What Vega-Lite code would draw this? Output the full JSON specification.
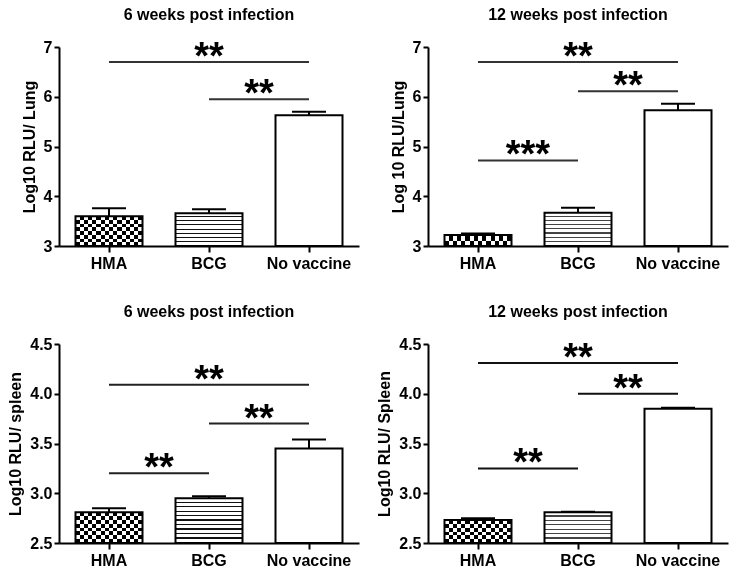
{
"$schema": "https://vega.github.io/schema/vega-lite/v6.json",
"padding": {"left": 7, "top": 6, "right": 5, "bottom": 5},
"background": "#ffffff",
"columns": 2,
"bounds": "flush",
"spacing": {"row": 98, "column": 69},
"config": {
  "font": "Liberation Sans",
  "view": {"stroke": null},
  "axis": {"domainColor": "#000", "domainWidth": 2, "tickColor": "#000", "tickWidth": 2, "tickSize": 5, "labelFont": "Liberation Sans", "labelFontSize": 16, "labelFontWeight": "bold", "labelColor": "#000", "titleFont": "Liberation Sans", "titleFontSize": 16, "titleFontWeight": "bold", "titleColor": "#000", "grid": false, "labelPadding": 2, "titlePadding": 6},
  "axisX": {"labelAngle": 0, "tickSize": 6, "labelPadding": 3},
  "title": {"font": "Liberation Sans", "fontSize": 16, "fontWeight": "bold", "color": "#000", "frame": "group", "offset": 16}
},
"datasets": {
  "bars": [
    {"panel": "lung6", "group": "HMA", "mean": 3.60, "upper": 3.76},
    {"panel": "lung6", "group": "BCG", "mean": 3.66, "upper": 3.74},
    {"panel": "lung6", "group": "No vaccine", "mean": 5.63, "upper": 5.70},
    {"panel": "lung12", "group": "HMA", "mean": 3.22, "upper": 3.25},
    {"panel": "lung12", "group": "BCG", "mean": 3.67, "upper": 3.77},
    {"panel": "lung12", "group": "No vaccine", "mean": 5.73, "upper": 5.86},
    {"panel": "spleen6", "group": "HMA", "mean": 2.81, "upper": 2.85},
    {"panel": "spleen6", "group": "BCG", "mean": 2.95, "upper": 2.97},
    {"panel": "spleen6", "group": "No vaccine", "mean": 3.45, "upper": 3.54},
    {"panel": "spleen12", "group": "HMA", "mean": 2.73, "upper": 2.75},
    {"panel": "spleen12", "group": "BCG", "mean": 2.81, "upper": 2.815},
    {"panel": "spleen12", "group": "No vaccine", "mean": 3.85, "upper": 3.86}
  ],
  "sig": [
    {"panel": "lung6", "from": "HMA", "to": "No vaccine", "y": 6.70, "label": "**"},
    {"panel": "lung6", "from": "BCG", "to": "No vaccine", "y": 5.95, "label": "**"},
    {"panel": "lung12", "from": "HMA", "to": "No vaccine", "y": 6.70, "label": "**"},
    {"panel": "lung12", "from": "BCG", "to": "No vaccine", "y": 6.11, "label": "**"},
    {"panel": "lung12", "from": "HMA", "to": "BCG", "y": 4.72, "label": "***"},
    {"panel": "spleen6", "from": "HMA", "to": "No vaccine", "y": 4.09, "label": "**"},
    {"panel": "spleen6", "from": "BCG", "to": "No vaccine", "y": 3.70, "label": "**"},
    {"panel": "spleen6", "from": "HMA", "to": "BCG", "y": 3.20, "label": "**"},
    {"panel": "spleen12", "from": "HMA", "to": "No vaccine", "y": 4.31, "label": "**"},
    {"panel": "spleen12", "from": "BCG", "to": "No vaccine", "y": 4.00, "label": "**"},
    {"panel": "spleen12", "from": "HMA", "to": "BCG", "y": 3.25, "label": "**"}
  ]
},
"concat": [
{
 "width": 300, "height": 199,
 "title": "6 weeks post infection",
 "encoding": {
   "x": {"field": "group", "type": "nominal", "title": null, "scale": {"domain": ["HMA", "BCG", "No vaccine"], "paddingInner": 0.33, "paddingOuter": 0.165}},
   "y": {"field": "mean", "type": "quantitative", "title": "Log10 RLU/ Lung", "scale": {"domain": [3, 7]}, "axis": {"values": [3, 4, 5, 6, 7], "format": "d"}}
 },
 "layer": [
  {"data": {"name": "bars"}, "transform": [{"filter": "datum.panel==='lung6' && datum.group==='HMA'"}],
   "mark": {"type": "bar", "strokeWidth": 0, "fill": {"gradient": "linear", "x1": 0, "y1": 0, "x2": 0, "y2": 1, "stops": [{"offset":0,"color":"#000"},{"offset":0.125,"color":"#000"},{"offset":0.125,"color":"#fff"},{"offset":0.25,"color":"#fff"},{"offset":0.25,"color":"#000"},{"offset":0.375,"color":"#000"},{"offset":0.375,"color":"#fff"},{"offset":0.5,"color":"#fff"},{"offset":0.5,"color":"#000"},{"offset":0.625,"color":"#000"},{"offset":0.625,"color":"#fff"},{"offset":0.75,"color":"#fff"},{"offset":0.75,"color":"#000"},{"offset":0.875,"color":"#000"},{"offset":0.875,"color":"#fff"},{"offset":1,"color":"#fff"}]}},
   "encoding": {"y2": {"datum": 3}}},
  {"data": {"name": "bars"}, "transform": [{"filter": "datum.panel==='lung6' && datum.group==='HMA'"}],
   "mark": {"type": "bar", "strokeWidth": 0, "blend": "difference", "fill": {"gradient": "linear", "x1": 0, "y1": 0, "x2": 1, "y2": 0, "stops": [{"offset":0,"color":"#fff"},{"offset":0.0625,"color":"#fff"},{"offset":0.0625,"color":"#000"},{"offset":0.125,"color":"#000"},{"offset":0.125,"color":"#fff"},{"offset":0.1875,"color":"#fff"},{"offset":0.1875,"color":"#000"},{"offset":0.25,"color":"#000"},{"offset":0.25,"color":"#fff"},{"offset":0.3125,"color":"#fff"},{"offset":0.3125,"color":"#000"},{"offset":0.375,"color":"#000"},{"offset":0.375,"color":"#fff"},{"offset":0.4375,"color":"#fff"},{"offset":0.4375,"color":"#000"},{"offset":0.5,"color":"#000"},{"offset":0.5,"color":"#fff"},{"offset":0.5625,"color":"#fff"},{"offset":0.5625,"color":"#000"},{"offset":0.625,"color":"#000"},{"offset":0.625,"color":"#fff"},{"offset":0.6875,"color":"#fff"},{"offset":0.6875,"color":"#000"},{"offset":0.75,"color":"#000"},{"offset":0.75,"color":"#fff"},{"offset":0.8125,"color":"#fff"},{"offset":0.8125,"color":"#000"},{"offset":0.875,"color":"#000"},{"offset":0.875,"color":"#fff"},{"offset":0.9375,"color":"#fff"},{"offset":0.9375,"color":"#000"},{"offset":1,"color":"#000"}]}},
   "encoding": {"y2": {"datum": 3}}},
  {"data": {"name": "bars"}, "transform": [{"filter": "datum.panel==='lung6' && datum.group==='BCG'"}],
   "mark": {"type": "bar", "strokeWidth": 0, "fill": {"gradient": "linear", "x1": 0, "y1": 0, "x2": 0, "y2": 1, "stops": [{"offset":0,"color":"#fff"},{"offset":0.094,"color":"#fff"},{"offset":0.094,"color":"#111"},{"offset":0.125,"color":"#111"},{"offset":0.125,"color":"#fff"},{"offset":0.219,"color":"#fff"},{"offset":0.219,"color":"#111"},{"offset":0.25,"color":"#111"},{"offset":0.25,"color":"#fff"},{"offset":0.344,"color":"#fff"},{"offset":0.344,"color":"#111"},{"offset":0.375,"color":"#111"},{"offset":0.375,"color":"#fff"},{"offset":0.469,"color":"#fff"},{"offset":0.469,"color":"#111"},{"offset":0.5,"color":"#111"},{"offset":0.5,"color":"#fff"},{"offset":0.594,"color":"#fff"},{"offset":0.594,"color":"#111"},{"offset":0.625,"color":"#111"},{"offset":0.625,"color":"#fff"},{"offset":0.719,"color":"#fff"},{"offset":0.719,"color":"#111"},{"offset":0.75,"color":"#111"},{"offset":0.75,"color":"#fff"},{"offset":0.844,"color":"#fff"},{"offset":0.844,"color":"#111"},{"offset":0.875,"color":"#111"},{"offset":0.875,"color":"#fff"},{"offset":0.969,"color":"#fff"},{"offset":0.969,"color":"#111"},{"offset":1,"color":"#111"}]}},
   "encoding": {"y2": {"datum": 3}}},
  {"data": {"name": "bars"}, "transform": [{"filter": "datum.panel==='lung6'"}],
   "mark": {"type": "bar", "fill": "transparent", "stroke": "#000", "strokeWidth": 2},
   "encoding": {"y2": {"datum": 3}}},
  {"data": {"name": "bars"}, "transform": [{"filter": "datum.panel==='lung6'"}],
   "mark": {"type": "rule", "strokeWidth": 2, "color": "#000"},
   "encoding": {"y2": {"field": "upper"}}},
  {"data": {"name": "bars"}, "transform": [{"filter": "datum.panel==='lung6'"}],
   "mark": {"type": "tick", "thickness": 2, "size": 34, "color": "#000", "opacity": 1},
   "encoding": {"y": {"field": "upper", "type": "quantitative", "title": "Log10 RLU/ Lung"}}},
  {"data": {"name": "sig"}, "transform": [{"filter": "datum.panel==='lung6'"}],
   "mark": {"type": "rule", "strokeWidth": 2, "color": "#333"},
   "encoding": {"x": {"field": "from", "type": "nominal", "title": null}, "x2": {"field": "to"}, "y": {"field": "y", "type": "quantitative", "title": "Log10 RLU/ Lung"}}},
  {"data": {"name": "sig"}, "transform": [{"filter": "datum.panel==='lung6' && datum.from==='HMA' && datum.to==='No vaccine'"}],
   "mark": {"type": "text", "fontSize": 38, "fontWeight": "bold", "baseline": "alphabetic", "dy": 7, "color": "#000"},
   "encoding": {"x": {"field": "from", "type": "nominal", "title": null, "bandPosition": 1.993}, "y": {"field": "y", "type": "quantitative", "title": "Log10 RLU/ Lung"}, "text": {"field": "label"}}},
  {"data": {"name": "sig"}, "transform": [{"filter": "datum.panel==='lung6' && !(datum.from==='HMA' && datum.to==='No vaccine')"}],
   "mark": {"type": "text", "fontSize": 38, "fontWeight": "bold", "baseline": "alphabetic", "dy": 7, "color": "#000"},
   "encoding": {"x": {"field": "from", "type": "nominal", "title": null, "bandPosition": 1.246}, "y": {"field": "y", "type": "quantitative", "title": "Log10 RLU/ Lung"}, "text": {"field": "label"}}}
 ]
},
{
 "width": 300, "height": 199,
 "title": "12 weeks post infection",
 "encoding": {
   "x": {"field": "group", "type": "nominal", "title": null, "scale": {"domain": ["HMA", "BCG", "No vaccine"], "paddingInner": 0.33, "paddingOuter": 0.165}},
   "y": {"field": "mean", "type": "quantitative", "title": "Log 10 RLU/Lung", "scale": {"domain": [3, 7]}, "axis": {"values": [3, 4, 5, 6, 7], "format": "d"}}
 },
 "layer": [
  {"data": {"name": "bars"}, "transform": [{"filter": "datum.panel==='lung12' && datum.group==='HMA'"}],
   "mark": {"type": "bar", "strokeWidth": 0, "fill": {"gradient": "linear", "x1": 0, "y1": 0, "x2": 0, "y2": 1, "stops": [{"offset":0,"color":"#000"},{"offset":0.5,"color":"#000"},{"offset":0.5,"color":"#fff"},{"offset":1,"color":"#fff"}]}},
   "encoding": {"y2": {"datum": 3}}},
  {"data": {"name": "bars"}, "transform": [{"filter": "datum.panel==='lung12' && datum.group==='HMA'"}],
   "mark": {"type": "bar", "strokeWidth": 0, "blend": "difference", "fill": {"gradient": "linear", "x1": 0, "y1": 0, "x2": 1, "y2": 0, "stops": [{"offset":0,"color":"#fff"},{"offset":0.0625,"color":"#fff"},{"offset":0.0625,"color":"#000"},{"offset":0.125,"color":"#000"},{"offset":0.125,"color":"#fff"},{"offset":0.1875,"color":"#fff"},{"offset":0.1875,"color":"#000"},{"offset":0.25,"color":"#000"},{"offset":0.25,"color":"#fff"},{"offset":0.3125,"color":"#fff"},{"offset":0.3125,"color":"#000"},{"offset":0.375,"color":"#000"},{"offset":0.375,"color":"#fff"},{"offset":0.4375,"color":"#fff"},{"offset":0.4375,"color":"#000"},{"offset":0.5,"color":"#000"},{"offset":0.5,"color":"#fff"},{"offset":0.5625,"color":"#fff"},{"offset":0.5625,"color":"#000"},{"offset":0.625,"color":"#000"},{"offset":0.625,"color":"#fff"},{"offset":0.6875,"color":"#fff"},{"offset":0.6875,"color":"#000"},{"offset":0.75,"color":"#000"},{"offset":0.75,"color":"#fff"},{"offset":0.8125,"color":"#fff"},{"offset":0.8125,"color":"#000"},{"offset":0.875,"color":"#000"},{"offset":0.875,"color":"#fff"},{"offset":0.9375,"color":"#fff"},{"offset":0.9375,"color":"#000"},{"offset":1,"color":"#000"}]}},
   "encoding": {"y2": {"datum": 3}}},
  {"data": {"name": "bars"}, "transform": [{"filter": "datum.panel==='lung12' && datum.group==='BCG'"}],
   "mark": {"type": "bar", "strokeWidth": 0, "fill": {"gradient": "linear", "x1": 0, "y1": 0, "x2": 0, "y2": 1, "stops": [{"offset":0,"color":"#fff"},{"offset":0.094,"color":"#fff"},{"offset":0.094,"color":"#444"},{"offset":0.125,"color":"#444"},{"offset":0.125,"color":"#fff"},{"offset":0.219,"color":"#fff"},{"offset":0.219,"color":"#444"},{"offset":0.25,"color":"#444"},{"offset":0.25,"color":"#fff"},{"offset":0.344,"color":"#fff"},{"offset":0.344,"color":"#444"},{"offset":0.375,"color":"#444"},{"offset":0.375,"color":"#fff"},{"offset":0.469,"color":"#fff"},{"offset":0.469,"color":"#444"},{"offset":0.5,"color":"#444"},{"offset":0.5,"color":"#fff"},{"offset":0.594,"color":"#fff"},{"offset":0.594,"color":"#444"},{"offset":0.625,"color":"#444"},{"offset":0.625,"color":"#fff"},{"offset":0.719,"color":"#fff"},{"offset":0.719,"color":"#444"},{"offset":0.75,"color":"#444"},{"offset":0.75,"color":"#fff"},{"offset":0.844,"color":"#fff"},{"offset":0.844,"color":"#444"},{"offset":0.875,"color":"#444"},{"offset":0.875,"color":"#fff"},{"offset":0.969,"color":"#fff"},{"offset":0.969,"color":"#444"},{"offset":1,"color":"#444"}]}},
   "encoding": {"y2": {"datum": 3}}},
  {"data": {"name": "bars"}, "transform": [{"filter": "datum.panel==='lung12'"}],
   "mark": {"type": "bar", "fill": "transparent", "stroke": "#000", "strokeWidth": 2},
   "encoding": {"y2": {"datum": 3}}},
  {"data": {"name": "bars"}, "transform": [{"filter": "datum.panel==='lung12'"}],
   "mark": {"type": "rule", "strokeWidth": 2, "color": "#000"},
   "encoding": {"y2": {"field": "upper"}}},
  {"data": {"name": "bars"}, "transform": [{"filter": "datum.panel==='lung12'"}],
   "mark": {"type": "tick", "thickness": 2, "size": 34, "color": "#000", "opacity": 1},
   "encoding": {"y": {"field": "upper", "type": "quantitative", "title": "Log 10 RLU/Lung"}}},
  {"data": {"name": "sig"}, "transform": [{"filter": "datum.panel==='lung12'"}],
   "mark": {"type": "rule", "strokeWidth": 2, "color": "#333"},
   "encoding": {"x": {"field": "from", "type": "nominal", "title": null}, "x2": {"field": "to"}, "y": {"field": "y", "type": "quantitative", "title": "Log 10 RLU/Lung"}}},
  {"data": {"name": "sig"}, "transform": [{"filter": "datum.panel==='lung12' && datum.from==='HMA' && datum.to==='No vaccine'"}],
   "mark": {"type": "text", "fontSize": 38, "fontWeight": "bold", "baseline": "alphabetic", "dy": 7, "color": "#000"},
   "encoding": {"x": {"field": "from", "type": "nominal", "title": null, "bandPosition": 1.993}, "y": {"field": "y", "type": "quantitative", "title": "Log 10 RLU/Lung"}, "text": {"field": "label"}}},
  {"data": {"name": "sig"}, "transform": [{"filter": "datum.panel==='lung12' && !(datum.from==='HMA' && datum.to==='No vaccine')"}],
   "mark": {"type": "text", "fontSize": 38, "fontWeight": "bold", "baseline": "alphabetic", "dy": 7, "color": "#000"},
   "encoding": {"x": {"field": "from", "type": "nominal", "title": null, "bandPosition": 1.246}, "y": {"field": "y", "type": "quantitative", "title": "Log 10 RLU/Lung"}, "text": {"field": "label"}}}
 ]
},
{
 "width": 300, "height": 199,
 "title": "6 weeks post infection",
 "encoding": {
   "x": {"field": "group", "type": "nominal", "title": null, "scale": {"domain": ["HMA", "BCG", "No vaccine"], "paddingInner": 0.33, "paddingOuter": 0.165}},
   "y": {"field": "mean", "type": "quantitative", "title": "Log10 RLU/ spleen", "scale": {"domain": [2.5, 4.5]}, "axis": {"values": [2.5, 3, 3.5, 4, 4.5], "format": ".1f"}}
 },
 "layer": [
  {"data": {"name": "bars"}, "transform": [{"filter": "datum.panel==='spleen6' && datum.group==='HMA'"}],
   "mark": {"type": "bar", "strokeWidth": 0, "fill": {"gradient": "linear", "x1": 0, "y1": 0, "x2": 0, "y2": 1, "stops": [{"offset":0,"color":"#000"},{"offset":0.125,"color":"#000"},{"offset":0.125,"color":"#fff"},{"offset":0.25,"color":"#fff"},{"offset":0.25,"color":"#000"},{"offset":0.375,"color":"#000"},{"offset":0.375,"color":"#fff"},{"offset":0.5,"color":"#fff"},{"offset":0.5,"color":"#000"},{"offset":0.625,"color":"#000"},{"offset":0.625,"color":"#fff"},{"offset":0.75,"color":"#fff"},{"offset":0.75,"color":"#000"},{"offset":0.875,"color":"#000"},{"offset":0.875,"color":"#fff"},{"offset":1,"color":"#fff"}]}},
   "encoding": {"y2": {"datum": 2.5}}},
  {"data": {"name": "bars"}, "transform": [{"filter": "datum.panel==='spleen6' && datum.group==='HMA'"}],
   "mark": {"type": "bar", "strokeWidth": 0, "blend": "difference", "fill": {"gradient": "linear", "x1": 0, "y1": 0, "x2": 1, "y2": 0, "stops": [{"offset":0,"color":"#fff"},{"offset":0.0625,"color":"#fff"},{"offset":0.0625,"color":"#000"},{"offset":0.125,"color":"#000"},{"offset":0.125,"color":"#fff"},{"offset":0.1875,"color":"#fff"},{"offset":0.1875,"color":"#000"},{"offset":0.25,"color":"#000"},{"offset":0.25,"color":"#fff"},{"offset":0.3125,"color":"#fff"},{"offset":0.3125,"color":"#000"},{"offset":0.375,"color":"#000"},{"offset":0.375,"color":"#fff"},{"offset":0.4375,"color":"#fff"},{"offset":0.4375,"color":"#000"},{"offset":0.5,"color":"#000"},{"offset":0.5,"color":"#fff"},{"offset":0.5625,"color":"#fff"},{"offset":0.5625,"color":"#000"},{"offset":0.625,"color":"#000"},{"offset":0.625,"color":"#fff"},{"offset":0.6875,"color":"#fff"},{"offset":0.6875,"color":"#000"},{"offset":0.75,"color":"#000"},{"offset":0.75,"color":"#fff"},{"offset":0.8125,"color":"#fff"},{"offset":0.8125,"color":"#000"},{"offset":0.875,"color":"#000"},{"offset":0.875,"color":"#fff"},{"offset":0.9375,"color":"#fff"},{"offset":0.9375,"color":"#000"},{"offset":1,"color":"#000"}]}},
   "encoding": {"y2": {"datum": 2.5}}},
  {"data": {"name": "bars"}, "transform": [{"filter": "datum.panel==='spleen6' && datum.group==='BCG'"}],
   "mark": {"type": "bar", "strokeWidth": 0, "fill": {"gradient": "linear", "x1": 0, "y1": 0, "x2": 0, "y2": 1, "stops": [{"offset":0,"color":"#fff"},{"offset":0.075,"color":"#fff"},{"offset":0.075,"color":"#111"},{"offset":0.1,"color":"#111"},{"offset":0.1,"color":"#fff"},{"offset":0.175,"color":"#fff"},{"offset":0.175,"color":"#111"},{"offset":0.2,"color":"#111"},{"offset":0.2,"color":"#fff"},{"offset":0.275,"color":"#fff"},{"offset":0.275,"color":"#111"},{"offset":0.3,"color":"#111"},{"offset":0.3,"color":"#fff"},{"offset":0.375,"color":"#fff"},{"offset":0.375,"color":"#111"},{"offset":0.4,"color":"#111"},{"offset":0.4,"color":"#fff"},{"offset":0.475,"color":"#fff"},{"offset":0.475,"color":"#111"},{"offset":0.5,"color":"#111"},{"offset":0.5,"color":"#fff"},{"offset":0.575,"color":"#fff"},{"offset":0.575,"color":"#111"},{"offset":0.6,"color":"#111"},{"offset":0.6,"color":"#fff"},{"offset":0.675,"color":"#fff"},{"offset":0.675,"color":"#111"},{"offset":0.7,"color":"#111"},{"offset":0.7,"color":"#fff"},{"offset":0.775,"color":"#fff"},{"offset":0.775,"color":"#111"},{"offset":0.8,"color":"#111"},{"offset":0.8,"color":"#fff"},{"offset":0.875,"color":"#fff"},{"offset":0.875,"color":"#111"},{"offset":0.9,"color":"#111"},{"offset":0.9,"color":"#fff"},{"offset":0.975,"color":"#fff"},{"offset":0.975,"color":"#111"},{"offset":1,"color":"#111"}]}},
   "encoding": {"y2": {"datum": 2.5}}},
  {"data": {"name": "bars"}, "transform": [{"filter": "datum.panel==='spleen6'"}],
   "mark": {"type": "bar", "fill": "transparent", "stroke": "#000", "strokeWidth": 2},
   "encoding": {"y2": {"datum": 2.5}}},
  {"data": {"name": "bars"}, "transform": [{"filter": "datum.panel==='spleen6'"}],
   "mark": {"type": "rule", "strokeWidth": 2, "color": "#000"},
   "encoding": {"y2": {"field": "upper"}}},
  {"data": {"name": "bars"}, "transform": [{"filter": "datum.panel==='spleen6'"}],
   "mark": {"type": "tick", "thickness": 2, "size": 34, "color": "#000", "opacity": 1},
   "encoding": {"y": {"field": "upper", "type": "quantitative", "title": "Log10 RLU/ spleen"}}},
  {"data": {"name": "sig"}, "transform": [{"filter": "datum.panel==='spleen6'"}],
   "mark": {"type": "rule", "strokeWidth": 2, "color": "#222"},
   "encoding": {"x": {"field": "from", "type": "nominal", "title": null}, "x2": {"field": "to"}, "y": {"field": "y", "type": "quantitative", "title": "Log10 RLU/ spleen"}}},
  {"data": {"name": "sig"}, "transform": [{"filter": "datum.panel==='spleen6' && datum.from==='HMA' && datum.to==='No vaccine'"}],
   "mark": {"type": "text", "fontSize": 38, "fontWeight": "bold", "baseline": "alphabetic", "dy": 7, "color": "#000"},
   "encoding": {"x": {"field": "from", "type": "nominal", "title": null, "bandPosition": 1.993}, "y": {"field": "y", "type": "quantitative", "title": "Log10 RLU/ spleen"}, "text": {"field": "label"}}},
  {"data": {"name": "sig"}, "transform": [{"filter": "datum.panel==='spleen6' && !(datum.from==='HMA' && datum.to==='No vaccine')"}],
   "mark": {"type": "text", "fontSize": 38, "fontWeight": "bold", "baseline": "alphabetic", "dy": 7, "color": "#000"},
   "encoding": {"x": {"field": "from", "type": "nominal", "title": null, "bandPosition": 1.246}, "y": {"field": "y", "type": "quantitative", "title": "Log10 RLU/ spleen"}, "text": {"field": "label"}}}
 ]
},
{
 "width": 300, "height": 199,
 "title": "12 weeks post infection",
 "encoding": {
   "x": {"field": "group", "type": "nominal", "title": null, "scale": {"domain": ["HMA", "BCG", "No vaccine"], "paddingInner": 0.33, "paddingOuter": 0.165}},
   "y": {"field": "mean", "type": "quantitative", "title": "Log10 RLU/ Spleen", "scale": {"domain": [2.5, 4.5]}, "axis": {"values": [2.5, 3, 3.5, 4, 4.5], "format": ".1f"}}
 },
 "layer": [
  {"data": {"name": "bars"}, "transform": [{"filter": "datum.panel==='spleen12' && datum.group==='HMA'"}],
   "mark": {"type": "bar", "strokeWidth": 0, "fill": {"gradient": "linear", "x1": 0, "y1": 0, "x2": 0, "y2": 1, "stops": [{"offset":0,"color":"#000"},{"offset":0.1667,"color":"#000"},{"offset":0.1667,"color":"#fff"},{"offset":0.3333,"color":"#fff"},{"offset":0.3333,"color":"#000"},{"offset":0.5,"color":"#000"},{"offset":0.5,"color":"#fff"},{"offset":0.6667,"color":"#fff"},{"offset":0.6667,"color":"#000"},{"offset":0.8333,"color":"#000"},{"offset":0.8333,"color":"#fff"},{"offset":1,"color":"#fff"}]}},
   "encoding": {"y2": {"datum": 2.5}}},
  {"data": {"name": "bars"}, "transform": [{"filter": "datum.panel==='spleen12' && datum.group==='HMA'"}],
   "mark": {"type": "bar", "strokeWidth": 0, "blend": "difference", "fill": {"gradient": "linear", "x1": 0, "y1": 0, "x2": 1, "y2": 0, "stops": [{"offset":0,"color":"#fff"},{"offset":0.0625,"color":"#fff"},{"offset":0.0625,"color":"#000"},{"offset":0.125,"color":"#000"},{"offset":0.125,"color":"#fff"},{"offset":0.1875,"color":"#fff"},{"offset":0.1875,"color":"#000"},{"offset":0.25,"color":"#000"},{"offset":0.25,"color":"#fff"},{"offset":0.3125,"color":"#fff"},{"offset":0.3125,"color":"#000"},{"offset":0.375,"color":"#000"},{"offset":0.375,"color":"#fff"},{"offset":0.4375,"color":"#fff"},{"offset":0.4375,"color":"#000"},{"offset":0.5,"color":"#000"},{"offset":0.5,"color":"#fff"},{"offset":0.5625,"color":"#fff"},{"offset":0.5625,"color":"#000"},{"offset":0.625,"color":"#000"},{"offset":0.625,"color":"#fff"},{"offset":0.6875,"color":"#fff"},{"offset":0.6875,"color":"#000"},{"offset":0.75,"color":"#000"},{"offset":0.75,"color":"#fff"},{"offset":0.8125,"color":"#fff"},{"offset":0.8125,"color":"#000"},{"offset":0.875,"color":"#000"},{"offset":0.875,"color":"#fff"},{"offset":0.9375,"color":"#fff"},{"offset":0.9375,"color":"#000"},{"offset":1,"color":"#000"}]}},
   "encoding": {"y2": {"datum": 2.5}}},
  {"data": {"name": "bars"}, "transform": [{"filter": "datum.panel==='spleen12' && datum.group==='BCG'"}],
   "mark": {"type": "bar", "strokeWidth": 0, "fill": {"gradient": "linear", "x1": 0, "y1": 0, "x2": 0, "y2": 1, "stops": [{"offset":0,"color":"#fff"},{"offset":0.107,"color":"#fff"},{"offset":0.107,"color":"#444"},{"offset":0.143,"color":"#444"},{"offset":0.143,"color":"#fff"},{"offset":0.25,"color":"#fff"},{"offset":0.25,"color":"#444"},{"offset":0.286,"color":"#444"},{"offset":0.286,"color":"#fff"},{"offset":0.393,"color":"#fff"},{"offset":0.393,"color":"#444"},{"offset":0.429,"color":"#444"},{"offset":0.429,"color":"#fff"},{"offset":0.536,"color":"#fff"},{"offset":0.536,"color":"#444"},{"offset":0.571,"color":"#444"},{"offset":0.571,"color":"#fff"},{"offset":0.679,"color":"#fff"},{"offset":0.679,"color":"#444"},{"offset":0.714,"color":"#444"},{"offset":0.714,"color":"#fff"},{"offset":0.821,"color":"#fff"},{"offset":0.821,"color":"#444"},{"offset":0.857,"color":"#444"},{"offset":0.857,"color":"#fff"},{"offset":0.964,"color":"#fff"},{"offset":0.964,"color":"#444"},{"offset":1,"color":"#444"}]}},
   "encoding": {"y2": {"datum": 2.5}}},
  {"data": {"name": "bars"}, "transform": [{"filter": "datum.panel==='spleen12'"}],
   "mark": {"type": "bar", "fill": "transparent", "stroke": "#000", "strokeWidth": 2},
   "encoding": {"y2": {"datum": 2.5}}},
  {"data": {"name": "bars"}, "transform": [{"filter": "datum.panel==='spleen12'"}],
   "mark": {"type": "rule", "strokeWidth": 2, "color": "#000"},
   "encoding": {"y2": {"field": "upper"}}},
  {"data": {"name": "bars"}, "transform": [{"filter": "datum.panel==='spleen12'"}],
   "mark": {"type": "tick", "thickness": 2, "size": 34, "color": "#000", "opacity": 1},
   "encoding": {"y": {"field": "upper", "type": "quantitative", "title": "Log10 RLU/ Spleen"}}},
  {"data": {"name": "sig"}, "transform": [{"filter": "datum.panel==='spleen12'"}],
   "mark": {"type": "rule", "strokeWidth": 2, "color": "#111"},
   "encoding": {"x": {"field": "from", "type": "nominal", "title": null}, "x2": {"field": "to"}, "y": {"field": "y", "type": "quantitative", "title": "Log10 RLU/ Spleen"}}},
  {"data": {"name": "sig"}, "transform": [{"filter": "datum.panel==='spleen12' && datum.from==='HMA' && datum.to==='No vaccine'"}],
   "mark": {"type": "text", "fontSize": 38, "fontWeight": "bold", "baseline": "alphabetic", "dy": 7, "color": "#000"},
   "encoding": {"x": {"field": "from", "type": "nominal", "title": null, "bandPosition": 1.993}, "y": {"field": "y", "type": "quantitative", "title": "Log10 RLU/ Spleen"}, "text": {"field": "label"}}},
  {"data": {"name": "sig"}, "transform": [{"filter": "datum.panel==='spleen12' && !(datum.from==='HMA' && datum.to==='No vaccine')"}],
   "mark": {"type": "text", "fontSize": 38, "fontWeight": "bold", "baseline": "alphabetic", "dy": 7, "color": "#000"},
   "encoding": {"x": {"field": "from", "type": "nominal", "title": null, "bandPosition": 1.246}, "y": {"field": "y", "type": "quantitative", "title": "Log10 RLU/ Spleen"}, "text": {"field": "label"}}}
 ]
}
]
}
